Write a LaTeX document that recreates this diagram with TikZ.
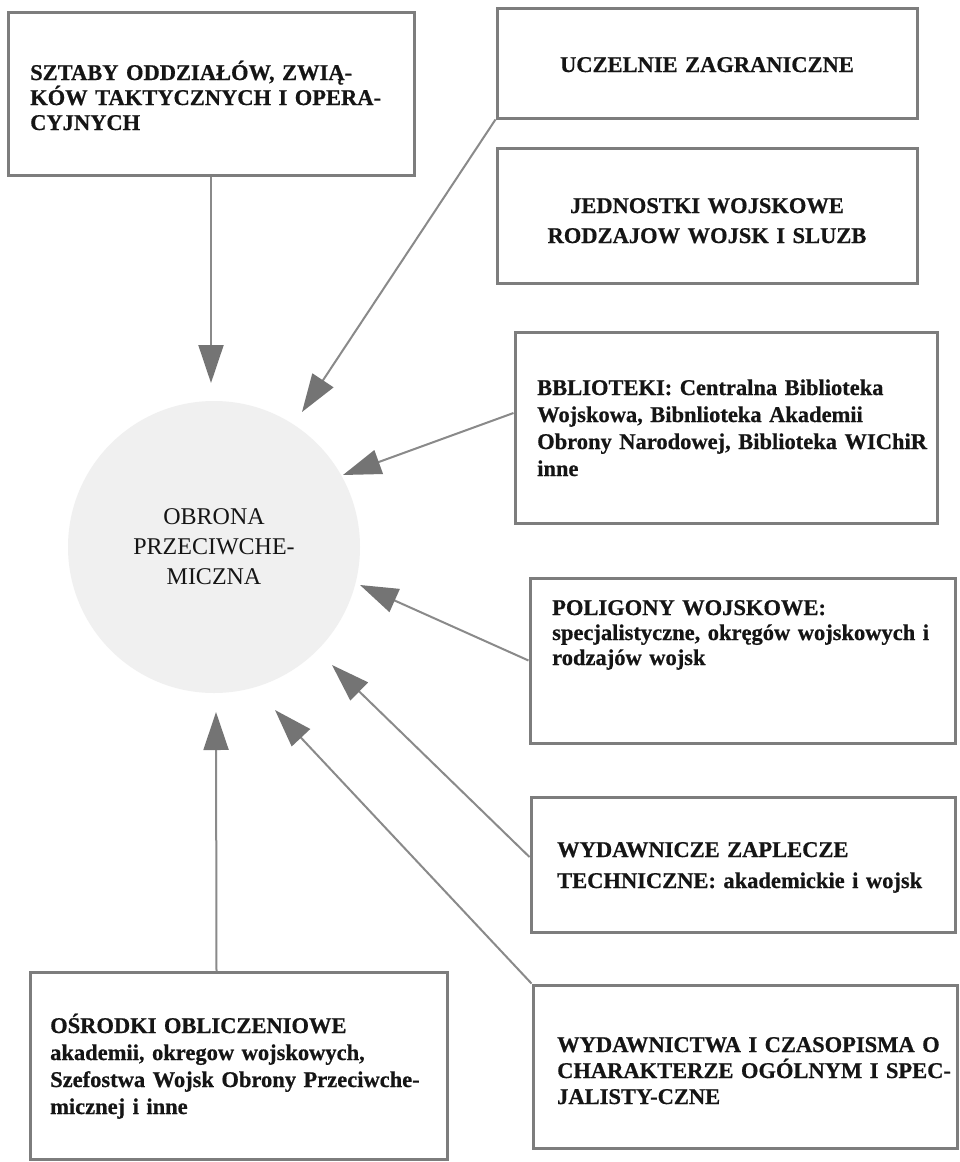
\documentclass[tikz,border=0pt]{standalone}
\usepackage{fontspec}
\setmainfont{Liberation Serif}[BoldFeatures={FakeBold=0.6}]
\usetikzlibrary{arrows.meta}
\definecolor{boxgray}{HTML}{7D7D7D}
\definecolor{linegray}{HTML}{8A8A8A}
\definecolor{headgray}{HTML}{747474}
\definecolor{haze}{HTML}{F0F0F0}
\definecolor{ink}{HTML}{151515}
\begin{document}
\begin{tikzpicture}[x=1pt,y=-1pt,
  frame/.style={draw=boxgray, line width=3pt, inner sep=0pt, fill=white},
  boxtext/.style={font=\bfseries\fontsize{22.5}{#1}\selectfont, text=ink,
    inner sep=0pt, anchor=base west, align=left, text width=420pt},
  boxtextc/.style={font=\bfseries\fontsize{22.5}{#1}\selectfont, text=ink,
    inner sep=0pt, anchor=base, align=center, text width=400pt},
  link/.style={draw=linegray, line width=2pt,
    -{Triangle[length=38pt,width=25pt,color=headgray,fill=headgray]}}
]
\useasboundingbox (0,0) rectangle (959,1162);
\fill[white] (0,0) rectangle (959,1162);

% central subject
\node[circle, fill=haze, minimum size=292pt, inner sep=0pt, text=ink,
      font=\fontsize{24}{30}\selectfont, align=center]
  (obrona) at (214,547) {OBRONA\\PRZECIWCHE-\\MICZNA};

% surrounding boxes
\node[frame, minimum width=406pt, minimum height=163pt] (sztaby)      at (211,93.5)   {};
\node[frame, minimum width=420pt, minimum height=110pt] (uczelnie)    at (707,63)     {};
\node[frame, minimum width=420pt, minimum height=135pt] (jednostki)   at (707,215.5)  {};
\node[frame, minimum width=422pt, minimum height=191pt] (biblioteki)  at (726,427.5)  {};
\node[frame, minimum width=425pt, minimum height=165pt] (poligony)    at (742.5,660.5){};
\node[frame, minimum width=424pt, minimum height=135pt] (zaplecze)    at (743,864.5)  {};
\node[frame, minimum width=424pt, minimum height=163pt] (wydawnictwa) at (745,1066.5) {};
\node[frame, minimum width=417pt, minimum height=187pt] (osrodki)     at (238.5,1066) {};

% box texts
\node[boxtext=25] (tsztaby) at (30,80)
  {SZTABY ODDZIAŁÓW, ZWIĄ-\\KÓW TAKTYCZNYCH I OPERA-\\CYJNYCH};
\node[boxtextc=30] (tuczelnie) at (707,72) {UCZELNIE ZAGRANICZNE};
\node[boxtextc=30] (tjednostki) at (707,213)
  {JEDNOSTKI WOJSKOWE\\RODZAJOW WOJSK I SLUZB};
\node[boxtext=27] (tbiblioteki) at (537,395)
  {BBLIOTEKI: Centralna Biblioteka\\Wojskowa, Bibnlioteka Akademii\\Obrony Narodowej, Biblioteka WIChiR\\inne};
\node[boxtext=25] (tpoligony) at (552,615)
  {POLIGONY WOJSKOWE:\\specjalistyczne, okręgów wojskowych i\\rodzajów wojsk};
\node[boxtext=31] (tzaplecze) at (557,857)
  {WYDAWNICZE ZAPLECZE\\TECHNICZNE: akademickie i wojsk};
\node[boxtext=26] (twydawnictwa) at (557,1052)
  {WYDAWNICTWA I CZASOPISMA O\\CHARAKTERZE OGÓLNYM I SPEC-\\JALISTY-CZNE};
\node[boxtext=27] (tosrodki) at (50,1033)
  {OŚRODKI OBLICZENIOWE\\akademii, okregow wojskowych,\\Szefostwa Wojsk Obrony Przeciwche-\\micznej i inne};

% arrow tips around the centre
\coordinate (inSztaby)      at (211,383);
\coordinate (inUczelnie)    at (302,412);
\coordinate (inBiblioteki)  at (343,475);
\coordinate (inPoligony)    at (360,585);
\coordinate (inZaplecze)    at (332,665);
\coordinate (inWydawnictwa) at (275,710);
\coordinate (inOsrodki)     at (216,712);

% connectors
\draw[link] (sztaby.south) -- (inSztaby);
\draw[link] (uczelnie.south west) -- (inUczelnie);
\draw[link] ([yshift=14.5pt]biblioteki.west) -- (inBiblioteki);
\draw[link] (poligony.west) -- (inPoligony);
\draw[link] ([yshift=7.5pt]zaplecze.west) -- (inZaplecze);
\draw[link] (wydawnictwa.north west) -- (inWydawnictwa);
\draw[link] ([xshift=-22pt]osrodki.north) -- (inOsrodki);
\end{tikzpicture}
\end{document}
